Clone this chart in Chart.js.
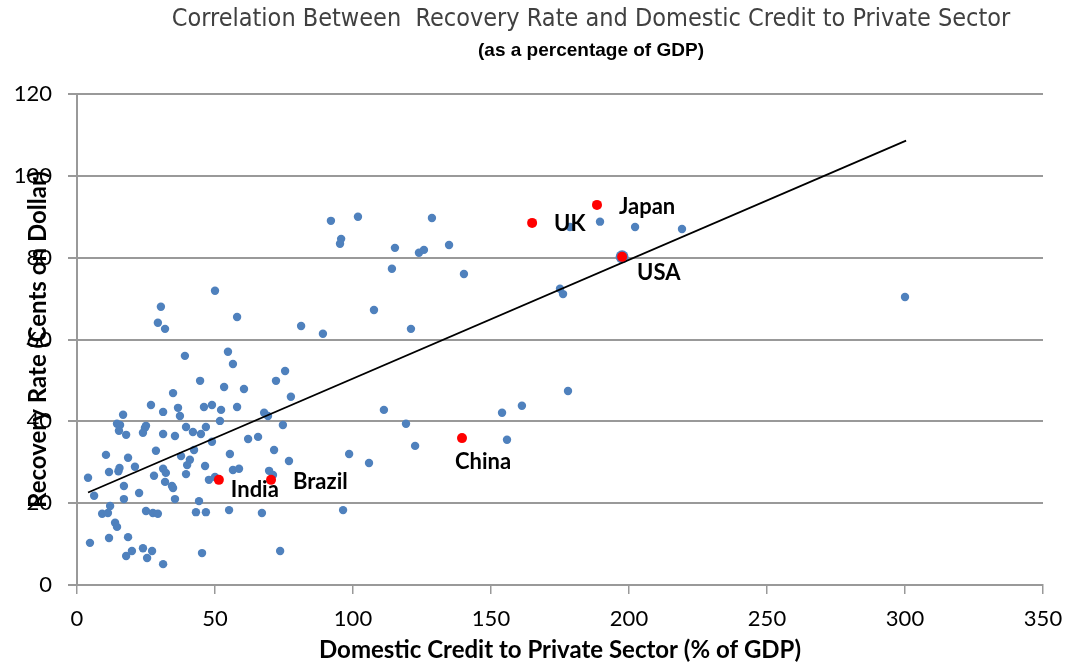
<!DOCTYPE html>
<html>
<head>
<meta charset="utf-8">
<script src="https://cdn.jsdelivr.net/npm/chart.js@4.4.0/dist/chart.umd.min.js"></script>
<style>
  body { margin: 0; background: #fff; }
  canvas { display: block; }
</style>
</head>
<body>
<canvas id="scatterChart" width="1066" height="664"></canvas>
<script>
// data
const blueX = [30.4,29.3,31.9,39.1,44.6,34.8,26.8,46.0,36.6,31.2,37.3,16.7,14.5,15.6,25.0,24.6,15.2,17.8,23.9,31.2,35.5,39.5,42.0,44.9,46.7,50.0,58.0,81.2,89.1,54.7,56.5,75.4,72.1,53.3,60.5,77.5,48.9,52.2,58.0,67.8,69.2,51.8,74.6,62.0,65.6,
  28.6,10.5,18.5,37.7,42.4,40.9,39.9,46.4,21.0,11.6,15.4,15.0,31.2,32.2,27.9,39.5,4.0,31.9,34.4,34.8,17.0,6.2,22.5,17.0,35.5,44.2,12.0,9.1,11.2,25.0,27.5,29.3,43.1,46.7,13.8,14.5,4.7,11.6,18.5,23.9,19.9,17.8,27.2,25.4,31.2,45.3,
  48.9,55.4,71.4,76.8,47.8,50.0,56.5,58.7,69.6,71.0,55.1,67.0,73.6,
  92.0,101.8,128.6,95.7,95.3,115.2,123.9,125.7,134.8,114.1,140.2,107.6,121.0,175.0,176.1,177.9,161.2,154.0,155.8,111.2,119.2,122.5,98.6,105.8,96.4,178.6,189.5,202.2,219.2,300.0];
const blueY = [68.0,64.1,62.6,56.0,49.9,46.9,44.0,43.5,43.3,42.3,41.3,41.6,39.4,39.1,38.9,38.4,37.7,36.7,37.2,36.9,36.4,38.6,37.4,36.9,38.6,71.9,65.5,63.3,61.4,57.0,54.0,52.3,49.9,48.4,47.9,46.0,44.0,42.8,43.5,42.1,41.3,40.1,39.1,35.7,36.2,
  32.8,31.8,31.1,31.5,33.0,30.6,29.3,29.1,28.9,27.6,28.6,27.8,28.4,27.4,26.7,27.1,26.2,25.2,24.2,23.7,24.2,21.8,22.5,21.0,21.0,20.5,19.3,17.4,17.6,18.1,17.6,17.4,17.8,17.8,15.2,14.2,10.3,11.5,11.7,9.0,8.3,7.1,8.3,6.6,5.1,7.8,
  35.0,32.0,33.0,30.3,25.7,26.4,28.1,28.4,27.9,26.9,18.3,17.6,8.3,
  89.0,90.0,89.7,84.6,83.4,82.4,81.2,81.9,83.1,77.3,76.0,67.2,62.6,72.4,71.1,47.4,43.8,42.1,35.5,42.8,39.4,34.0,32.0,29.8,18.3,87.5,88.8,87.5,87.0,70.4];

const countries = ['UK', 'Japan', 'USA', 'China', 'India', 'Brazil'];
const countryX = [164.9, 188.4, 197.5, 139.5, 51.4, 70.3];
const countryY = [88.5, 92.9, 80.2, 35.9, 25.7, 25.7];

const trendX = [4, 300.4];
const trendY = [22.6, 108.6];

const xTicks = [0, 50, 100, 150, 200, 250, 300, 350];
const yTicks = [0, 20, 40, 60, 80, 100, 120];

// label offsets in pixels from each red dot
const labelOffsets = [[22, 1], [22, 2], [15, 16], [-7, 24], [12, 10], [22, 2]];

const toPoints = (xs, ys) => xs.map((v, i) => ({ x: v, y: ys[i] }));

const textPlugin = {
    id: 'texts',
    afterDatasetsDraw(chart) {
        const { ctx, scales: { x, y } } = chart;
        ctx.save();
        ctx.fillStyle = '#000';
        ctx.font = 'bold 22px Lato';
        ctx.textAlign = 'left';
        ctx.textBaseline = 'middle';
        countries.forEach((name, i) => {
            const px = x.getPixelForValue(countryX[i]) + labelOffsets[i][0];
            const py = y.getPixelForValue(countryY[i]) + labelOffsets[i][1];
            ctx.fillText(name, px, py);
        });
        ctx.restore();
    },
    afterDraw(chart) {
        const { ctx, chartArea } = chart;
        ctx.save();
        ctx.textAlign = 'center';
        ctx.textBaseline = 'middle';

        ctx.fillStyle = '#404040';
        ctx.font = '25px "DejaVu Sans Condensed"';
        ctx.fillText('Correlation Between  Recovery Rate and Domestic Credit to Private Sector', 591, 19);

        ctx.fillStyle = '#000';
        ctx.font = 'bold 19px "Liberation Sans"';
        ctx.fillText('(as a percentage of GDP)', 591, 51);

        ctx.font = 'bold 24px Lato';
        ctx.fillText('Domestic Credit to Private Sector (% of GDP)', (chartArea.left + chartArea.right) / 2, 650);

        ctx.translate(38, (chartArea.top + chartArea.bottom) / 2);
        ctx.rotate(-Math.PI / 2);
        ctx.fillText('Recovery Rate (Cents on Dollar)', 0, 0);
        ctx.restore();
    }
};

const ctx = document.getElementById('scatterChart').getContext('2d');
const scatterChart = new Chart(ctx, {
    type: 'scatter',
    data: {
        datasets: [
            {
                label: 'Countries',
                data: toPoints(blueX, blueY),
                backgroundColor: '#4f81bd',
                borderWidth: 0,
                pointRadius: 4.2,
                order: 4
            },
            {
                label: 'USA halo',
                data: [{ x: countryX[2], y: countryY[2] }],
                backgroundColor: '#4f81bd',
                borderWidth: 0,
                pointRadius: 6.5,
                order: 3
            },
            {
                label: 'Trend',
                data: toPoints(trendX, trendY),
                showLine: true,
                borderColor: '#000',
                borderWidth: 1.8,
                pointRadius: 0,
                order: 2
            },
            {
                label: 'Highlighted',
                data: toPoints(countryX, countryY),
                backgroundColor: '#ff0000',
                borderWidth: 0,
                pointRadius: 5,
                order: 1
            }
        ]
    },
    options: {
        responsive: false,
        animation: false,
        layout: { padding: { top: 94, right: 23, left: 0, bottom: 0 } },
        plugins: {
            legend: { display: false },
            tooltip: { enabled: false }
        },
        scales: {
            x: {
                type: 'linear',
                min: xTicks[0],
                max: xTicks[xTicks.length - 1],
                afterBuildTicks: (s) => { s.ticks = xTicks.map(v => ({ value: v })); },
                afterFit: (s) => { s.height = 79; s.paddingLeft = 0; s.paddingRight = 0; },
                grid: { drawOnChartArea: false, drawTicks: true, tickLength: 9, color: '#999', lineWidth: 1.5 },
                border: { display: true, color: '#999', width: 2 },
                ticks: { color: '#000', font: { family: 'Lato', size: 22 }, padding: 12, maxRotation: 0 }
            },
            y: {
                min: yTicks[0],
                max: yTicks[yTicks.length - 1],
                afterBuildTicks: (s) => { s.ticks = yTicks.map(v => ({ value: v })); },
                afterFit: (s) => { s.width = 77; s.paddingTop = 0; s.paddingBottom = 0; },
                grid: { drawTicks: true, tickLength: 9, color: '#999', lineWidth: 2 },
                border: { display: true, color: '#999', width: 2 },
                ticks: { color: '#000', font: { family: 'Lato', size: 22 }, padding: 16 }
            }
        }
    },
    plugins: [textPlugin]
});
</script>
</body>
</html>
